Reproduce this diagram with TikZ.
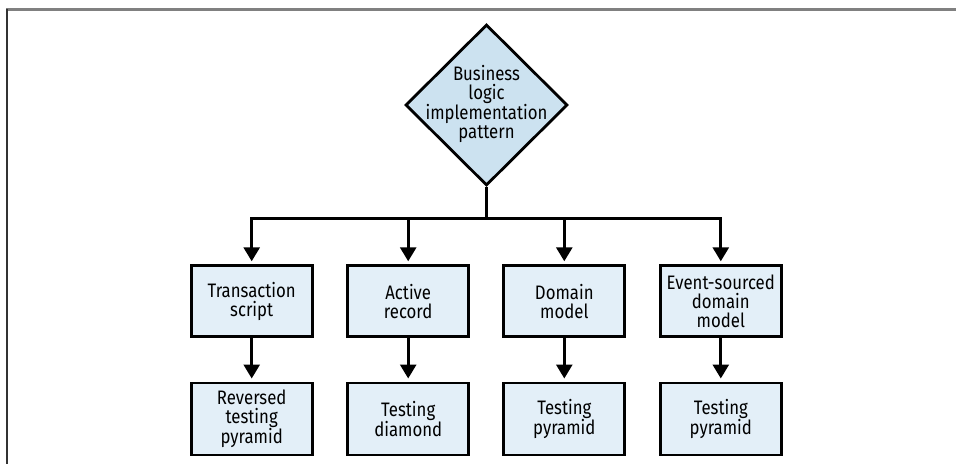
\documentclass[tikz,border=0pt]{standalone}
\usepackage{fontspec}
\setmainfont{Fira Sans}[FakeStretch=0.86]
\usetikzlibrary{shapes.geometric,arrows.meta}
\definecolor{decfill}{HTML}{CCE2F0}
\definecolor{boxfill}{HTML}{E3EFF8}
\definecolor{framegray}{HTML}{808080}
\definecolor{frameleft}{HTML}{333333}
\begin{document}
\begin{tikzpicture}[x=1pt,y=-1pt,
  txt/.style={font=\fontsize{19.5}{19}\selectfont, align=center},
  stepbox/.style={rectangle, draw=black, line width=2.8pt, fill=boxfill,
    minimum width=121pt, minimum height=71pt, inner sep=0pt, txt},
  decision/.style={diamond, draw=black, line width=2.8pt, fill=decfill,
    minimum width=162pt, minimum height=161pt, inner sep=0pt},
  wire/.style={line width=2.8pt, draw=black},
  arr/.style={wire, -{Triangle[width=16pt,length=14pt]}, shorten >=3pt}]
\useasboundingbox (0,0) rectangle (956,464);
% page frame
\draw[framegray, line width=2.5pt] (6,9.5) -- (956,9.5);
\draw[frameleft, line width=2pt] (6.5,8.5) -- (6.5,464);

% decision node
\node[decision, label={[txt, yshift=1pt]center:Business\\logic\\implementation\\pattern}] (bl) at (486.5,105) {};

% patterns
\node[stepbox] (ts) at (251.7,301.2) {Transaction\\script};
\node[stepbox] (ar) at (408.2,301.2) {Active\\record};
\node[stepbox] (dm) at (564.3,301.2) {Domain\\model};
\node[stepbox] (es) at (720.8,301.2) {Event-sourced\\domain\\model};

% testing strategies
\node[stepbox, minimum height=72pt] (rtp) at (251.7,418.9) {Reversed\\testing\\pyramid};
\node[stepbox, minimum height=72pt] (td)  at (408.2,418.9) {Testing\\diamond};
\node[stepbox, minimum height=72pt] (tp1) at (564.3,418.9) {Testing\\pyramid};
\node[stepbox, minimum height=72pt] (tp2) at (720.8,418.9) {Testing\\pyramid};

% branching connectors
\coordinate (bus) at (486.5,218.3);
\draw[wire] (bl.south) -- (bus);
\draw[wire, line cap=rect] (ts.north |- bus) -- (es.north |- bus);
\foreach \n in {ts,ar,dm,es}
  \draw[arr] (\n.north |- bus) -- (\n.north);

% pattern to testing strategy
\draw[arr] (ts.south) -- (rtp.north);
\draw[arr] (ar.south) -- (td.north);
\draw[arr] (dm.south) -- (tp1.north);
\draw[arr] (es.south) -- (tp2.north);
\end{tikzpicture}
\end{document}
